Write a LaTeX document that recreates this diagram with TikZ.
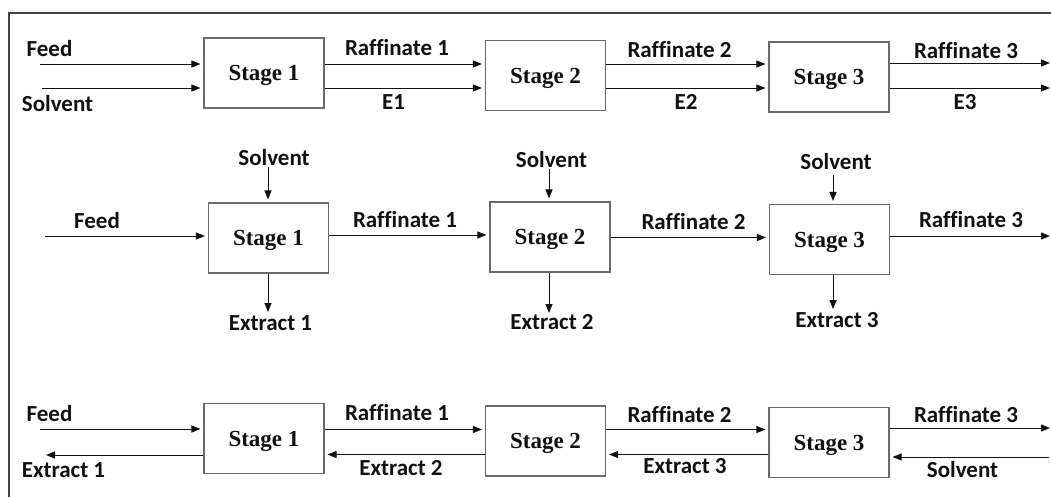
\documentclass[tikz,border=0pt]{standalone}
\usepackage{fontspec}
\setmainfont{Liberation Serif}
\newfontfamily\labfont[Ligatures=NoCommon]{Carlito}
\usetikzlibrary{arrows.meta}

\definecolor{boxgray}{HTML}{6A6A6A}
\definecolor{framegray}{HTML}{444444}
\definecolor{ink}{HTML}{111111}

\tikzset{
  stagebox/.style={draw=boxgray, line width=1.1pt, fill=white,
    minimum width=120pt, minimum height=70pt, inner sep=0pt,
    text height=15pt, text depth=0pt, text=ink,
    font=\bfseries\fontsize{23}{27}\selectfont},
  lab/.style={anchor=base, inner sep=0pt, text=ink,
    font=\labfont\bfseries\fontsize{23}{27}\selectfont},
  arr/.style={draw=ink, line width=1pt, -{Triangle[length=9pt,width=7pt]}},
  tobox/.style={arr, shorten >=3pt},
}

\begin{document}
\begin{tikzpicture}[x=1pt, y=-1pt]
\clip (0,0) rectangle (1051,496);
\useasboundingbox (0,0) rectangle (1051,496);
% outer frame
\draw[framegray, line width=1.5pt] (9,13) rectangle (1090,520);

% ---------- crosscurrent with mixed solvent (top row) ----------
\node[stagebox] (s11) at (264,73)    {Stage 1};
\node[stagebox] (s12) at (545.5,75.5) {Stage 2};
\node[stagebox] (s13) at (829,77)    {Stage 3};

\coordinate (ta) at (40,64);
\coordinate (tb) at (42,88);
\coordinate (tc) at (1050,63);
\coordinate (td) at (1050,88);

\draw[tobox] (ta) -- (ta -| s11.west);
\draw[tobox] (tb) -- (tb -| s11.west);
\draw[tobox] (s11.east |- ta) -- (s12.west |- ta);
\draw[tobox] (s11.east |- tb) -- (s12.west |- tb);
\draw[tobox] (s12.east |- ta) -- (s13.west |- ta);
\draw[tobox] (s12.east |- tb) -- (s13.west |- tb);
\draw[arr] (s13.east |- tc) -- (tc);
\draw[arr] (s13.east |- td) -- (td);

\node[lab] (t1) at (49.5,56)  {Feed};
\node[lab] (t2) at (57.5,111) {Solvent};
\node[lab] (t3) at (397,55)   {Raffinate 1};
\node[lab] (t4) at (393.5,109) {E1};
\node[lab] (t5) at (679.5,57) {Raffinate 2};
\node[lab] (t6) at (686,109)  {E2};
\node[lab] (t7) at (966,58)   {Raffinate 3};
\node[lab] (t8) at (965,109)  {E3};

% ---------- crosscurrent with fresh solvent (middle row) ----------
\node[stagebox] (s21) at (268.5,238)  {Stage 1};
\node[stagebox] (s22) at (550,237)    {Stage 2};
\node[stagebox] (s23) at (829.5,239.5) {Stage 3};

\coordinate (ma) at (45,236);
\coordinate (mb) at (0,235);
\coordinate (mc) at (0,237.5);
\coordinate (md) at (1050,236);
\coordinate (mv1) at (268,167);
\coordinate (mv2) at (549,169);
\coordinate (mv3) at (833,175);
\coordinate (mx1) at (268,312);
\coordinate (mx2) at (549,313);
\coordinate (mx3) at (833,309);

\draw[tobox] (ma) -- (ma -| s21.west);
\draw[tobox] (s21.east |- mb) -- (s22.west |- mb);
\draw[tobox] (s22.east |- mc) -- (s23.west |- mc);
\draw[arr] (s23.east |- md) -- (md);
\draw[tobox] (mv1) -- (mv1 |- s21.north);
\draw[tobox] (mv2) -- (mv2 |- s22.north);
\draw[tobox] (mv3) -- (mv3 |- s23.north);
\draw[arr] (mx1 |- s21.south) -- (mx1);
\draw[arr] (mx2 |- s22.south) -- (mx2);
\draw[arr] (mx3 |- s23.south) -- (mx3);

\node[lab] (m1) at (97,228)    {Feed};
\node[lab] (m2) at (274,165)   {Solvent};
\node[lab] (m3) at (551.5,167) {Solvent};
\node[lab] (m4) at (836,169)   {Solvent};
\node[lab] (m5) at (405,227)   {Raffinate 1};
\node[lab] (m6) at (693.5,229) {Raffinate 2};
\node[lab] (m7) at (971,227)   {Raffinate 3};
\node[lab] (m8) at (270.5,330) {Extract 1};
\node[lab] (m9) at (552,329)   {Extract 2};
\node[lab] (m10) at (837,327)  {Extract 3};

% ---------- countercurrent (bottom row) ----------
\node[stagebox] (s31) at (264,438.5)  {Stage 1};
\node[stagebox] (s32) at (545.5,441)  {Stage 2};
\node[stagebox] (s33) at (829,442.5)  {Stage 3};

\coordinate (ba) at (40,429);
\coordinate (bb) at (0,429.5);
\coordinate (bc) at (1050,428);
\coordinate (bd) at (46,455);
\coordinate (be) at (0,454.5);
\coordinate (bf) at (1049,457);

\draw[tobox] (ba) -- (ba -| s31.west);
\draw[tobox] (s31.east |- bb) -- (s32.west |- bb);
\draw[tobox] (s32.east |- bb) -- (s33.west |- bb);
\draw[arr] (s33.east |- bc) -- (bc);
\draw[arr] (s31.west |- bd) -- (bd);
\draw[tobox] (s32.west |- be) -- (s31.east |- be);
\draw[tobox] (s33.west |- be) -- (s32.east |- be);
\draw[tobox] (bf) -- (bf -| s33.east);

\node[lab] (b1) at (49.5,421)  {Feed};
\node[lab] (b2) at (63.5,477)  {Extract 1};
\node[lab] (b3) at (397,420)   {Raffinate 1};
\node[lab] (b4) at (401,475)   {Extract 2};
\node[lab] (b5) at (679.5,422) {Raffinate 2};
\node[lab] (b6) at (685,473)   {Extract 3};
\node[lab] (b7) at (966,422)   {Raffinate 3};
\node[lab] (b8) at (962.5,477) {Solvent};
\end{tikzpicture}
\end{document}
